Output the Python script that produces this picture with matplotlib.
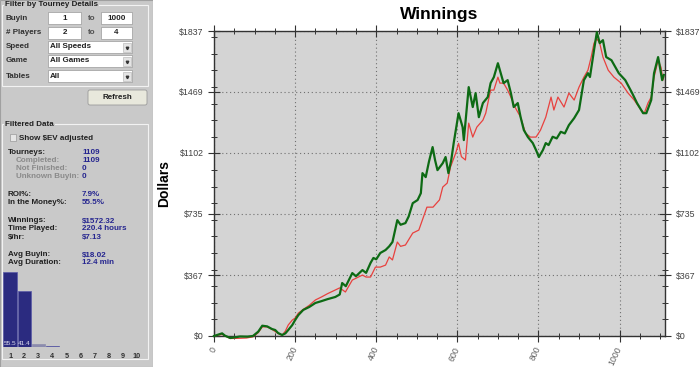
import matplotlib
matplotlib.use('Agg')
import matplotlib.pyplot as plt
import matplotlib.font_manager as fm
from matplotlib.patches import Rectangle, FancyBboxPatch
from matplotlib.ticker import FixedLocator, MultipleLocator

# ---- chart data ----
actual_x = [0, 10, 20, 27, 40, 52, 64, 82, 96, 109, 119, 131, 143, 151, 158, 168, 176, 183, 193,
            200, 208, 220, 235, 250, 265, 280, 299, 310, 316, 325, 341, 350, 366, 375, 386, 393,
            400, 410, 423, 432, 440, 452, 460, 472, 480, 490, 502, 510, 514, 522, 530, 539, 545,
            551, 564, 571, 578, 585, 591, 603, 608, 613, 616, 628, 638, 645, 653, 663, 675, 682,
            690, 700, 707, 714, 724, 732, 739, 749, 756, 764, 774, 786, 794, 801, 811, 818, 825,
            835, 845, 855, 865, 875, 888, 900, 912, 922, 927, 937, 944, 951, 959, 967, 980, 998,
            1014, 1031, 1043, 1058, 1066, 1078, 1085, 1095, 1098, 1105, 1109]
actual_y = [0, 8, 16, 2, -12, -8, -3, -4, 0, 26, 62, 58, 42, 36, 18, 6, 16, 36, 66,
            96, 126, 157, 175, 199, 210, 222, 235, 250, 319, 300, 379, 360, 397, 380, 440, 470,
            462, 500, 518, 540, 566, 698, 670, 680, 720, 800, 819, 860, 981, 957, 1050, 1138, 1060,
            999, 1041, 1078, 981, 1060, 1162, 1342, 1300, 1258, 1180, 1499, 1379, 1463, 1318, 1403, 1439, 1523,
            1559, 1643, 1583, 1523, 1541, 1463, 1379, 1403, 1318, 1240, 1198, 1162, 1120, 1078, 1120, 1162, 1150,
            1200, 1190, 1230, 1220, 1270, 1312, 1361, 1541, 1583, 1560, 1722, 1830, 1764, 1782, 1680, 1661, 1583,
            1541, 1463, 1403, 1342, 1342, 1421, 1583, 1680, 1640, 1541, 1572]

ev_x = [0, 20, 40, 60, 80, 96, 109, 119, 131, 143, 158, 168, 176, 183, 193, 200, 208, 220, 235,
        250, 265, 280, 299, 310, 324, 341, 366, 375, 386, 398, 410, 423, 432, 440, 452, 460, 472,
        490, 505, 525, 540, 556, 564, 575, 583, 596, 603, 610, 620, 628, 638, 648, 663, 670, 682,
        690, 700, 705, 714, 724, 732, 742, 756, 768, 780, 794, 805, 818, 831, 838, 848, 863, 875,
        888, 900, 912, 922, 930, 937, 944, 951, 959, 972, 986, 1004, 1021, 1036, 1053, 1061, 1070,
        1078, 1085, 1095, 1102, 1107, 1109]
ev_y = [0, 10, -15, -14, -12, -5, 20, 55, 55, 40, 15, 5, 30, 66, 96, 108, 138, 160, 185,
        217, 235, 255, 277, 290, 265, 337, 367, 355, 355, 415, 415, 427, 476, 458, 566, 540, 548,
        620, 638, 776, 776, 820, 897, 921, 1017, 1102, 1160, 1080, 1060, 1282, 1198, 1258, 1300, 1342, 1481,
        1481, 1559, 1523, 1523, 1481, 1439, 1379, 1318, 1222, 1198, 1198, 1240, 1318, 1439, 1361, 1439, 1379, 1463,
        1421, 1499, 1559, 1601, 1680, 1764, 1790, 1764, 1680, 1601, 1559, 1523, 1463, 1421, 1361, 1342, 1403,
        1439, 1559, 1661, 1619, 1541, 1560]

y_ticks = [0, 367.4, 734.8, 1102.2, 1469.6, 1837]
y_tick_labels = ['$0', '$367', '$735', '$1102', '$1469', '$1837']
x_ticks = [0, 200, 400, 600, 800, 1000]

# ---- side panel data ----
filter_labels = ['Buyin', '# Players', 'Speed', 'Game', 'Tables']
range_from = ['1', '2']
range_to = ['1000', '4']
combo_values = ['All Speeds', 'All Games', 'All']
stat_rows = [('Tourneys:', '1109', False), ('Completed:', '1109', True),
             ('Not Finished:', '0', True), ('Unknown Buyin:', '0', True), None,
             ('ROI%:', '7.9%', False), ('In the Money%:', '55.5%', False), None,
             ('Winnings:', '$1572.32', False), ('Time Played:', '220.4 hours', False),
             ('$/hr:', '$7.13', False), None,
             ('Avg Buyin:', '$18.02', False), ('Avg Duration:', '12.4 min', False)]
finish_places = [1, 2, 3, 4, 5, 6, 7, 8, 9, 10]
finish_pct = [55.5, 41.4, 2.3, 0.8, 0, 0, 0, 0, 0, 0]

names = {f.name for f in fm.fontManager.ttflist}
ui_font = 'Liberation Sans Narrow' if 'Liberation Sans Narrow' in names else 'Liberation Sans'
ui_size = 6.9 if ui_font == 'Liberation Sans Narrow' else 5.8
chart_font = 'Liberation Sans'

W, H = 700, 367
fig = plt.figure(figsize=(7, 3.67), dpi=100)
fig.patch.set_facecolor('white')

# ---------------- side panel (pixel coordinates) ----------------
pan = fig.add_axes([0, 0, 153 / W, 1])
pan.set_xlim(0, 153)
pan.set_ylim(H, 0)
pan.axis('off')
panel_bg = '#c9c9c9'
pan.add_patch(Rectangle((0, 0), 153, H, facecolor=panel_bg, edgecolor='#a0a0a0', lw=0.8))

def group_box(y0, y1, title):
    pan.add_patch(Rectangle((2, y0), 146, y1 - y0, facecolor='none', edgecolor='#f2f2f2', lw=0.8))
    pan.text(5, y0, title, fontsize=ui_size, family=ui_font, weight='bold', color='#202020',
             va='center', ha='left', bbox=dict(facecolor=panel_bg, edgecolor='none', pad=0.6))

def ui_text(x, y, s, color='#202020', ha='left'):
    pan.text(x, y, s, fontsize=ui_size, family=ui_font, weight='bold', color=color,
             va='center', ha=ha)

group_box(5, 86, 'Filter by Tourney Details')
row_y = [18, 33, 47, 61, 76]
for lbl, y in zip(filter_labels, row_y):
    ui_text(6, y, lbl, '#303030')
for i, (a, b) in enumerate(zip(range_from, range_to)):
    y = row_y[i]
    pan.add_patch(Rectangle((48, y - 6), 33, 12, facecolor='white', edgecolor='#9a9a9a', lw=0.5))
    pan.add_patch(Rectangle((101, y - 6), 31, 12, facecolor='white', edgecolor='#9a9a9a', lw=0.5))
    ui_text(64.5, y, a, ha='center')
    ui_text(116.5, y, b, ha='center')
    ui_text(88, y, 'to', '#505050')
for v, y in zip(combo_values, row_y[2:]):
    pan.add_patch(Rectangle((48, y - 6), 84, 12, facecolor='white', edgecolor='#9a9a9a', lw=0.5))
    pan.add_patch(Rectangle((123, y - 4.5), 8, 9, facecolor='#e4e4e4', edgecolor='#b0b0b0', lw=0.4))
    pan.plot([127], [y + 0.5], marker='v', ms=1.8, color='#333333')
    ui_text(50, y, v)

pan.add_patch(FancyBboxPatch((88, 90), 59, 15, boxstyle='round,pad=0,rounding_size=2',
                             facecolor='#e8e8dc', edgecolor='#9a9a9a', lw=0.6))
ui_text(117.5, 97.5, 'Refresh', '#202020', ha='center')

group_box(124, 359, 'Filtered Data')
pan.add_patch(Rectangle((10, 134), 6, 7, facecolor='#e6e6e6', edgecolor='#9a9a9a', lw=0.5))
ui_text(19, 138, 'Show $EV adjusted')

y = 153
for row in stat_rows:
    if row is None:
        y += 10
        continue
    lbl, val, sub = row
    ui_text(16 if sub else 8, y, lbl, '#8a8a8a' if sub else '#202020')
    ui_text(82, y, val, '#25258f')
    y += 8

# histogram of finishing places
hx = fig.add_axes([3 / W, (H - 347) / H, 141 / W, 75 / H])
hx.patch.set_alpha(0)
bars = hx.bar(finish_places, finish_pct, width=0.93, color='#2b2b80', edgecolor='#5a5aa8', lw=0.5)
bars[2].set_color('#8c8cae')
hx.set_xlim(0.5, 10.5)
hx.set_ylim(0, max(finish_pct))
hx.set_xticks(finish_places)
hx.tick_params(length=0, labelsize=ui_size - 0.6, pad=4)
for t in hx.get_xticklabels():
    t.set_family(ui_font)
    t.set_weight('bold')
    t.set_color('#303030')
hx.set_yticks([])
for s in hx.spines.values():
    s.set_visible(False)
for p, v in zip(finish_places[:2], finish_pct[:2]):
    hx.text(p, 0.8, f'{v}', ha='center', va='bottom', fontsize=ui_size - 1.2,
            family=ui_font, color='#e0e0f0')

# ---------------- main chart ----------------
ax = fig.add_axes([214 / W, (H - 336) / H, 451 / W, 305 / H])
ax.set_facecolor('#d4d4d4')
ax.plot(ev_x, ev_y, color='#e8413e', lw=0.9, clip_on=False, zorder=3)
ax.plot(actual_x, actual_y, color='#0d6a14', lw=1.6, clip_on=False, zorder=4)
ax.set_xlim(0, 1112)
ax.set_ylim(0, 1837)

ax.yaxis.set_major_locator(FixedLocator(y_ticks))
ax.set_yticklabels(y_tick_labels)
ax.yaxis.set_minor_locator(MultipleLocator(100))
ax.xaxis.set_major_locator(FixedLocator(x_ticks))
ax.xaxis.set_minor_locator(MultipleLocator(50))
ax.tick_params(which='both', direction='inout', top=True, right=True, labelright=True,
               color='#333333', labelcolor='#404040', labelsize=6.3)
ax.tick_params(which='major', length=8, width=0.8)
ax.tick_params(which='minor', length=5, width=0.7)
ax.tick_params(axis='x', pad=4)
for t in ax.get_xticklabels():
    t.set_rotation(65)
    t.set_ha('right')
    t.set_va('center')
    t.set_rotation_mode('anchor')
    t.set_color('#606060')
for t in ax.get_xticklabels() + ax.yaxis.get_majorticklabels():
    t.set_family(chart_font)
for s in ax.spines.values():
    s.set_color('#333333')
    s.set_linewidth(1.0)
ax.grid(True, which='major', linestyle=(0, (1, 2.5)), color='#707070', lw=0.8)

ax.set_title('Winnings', fontsize=12.5, weight='bold', family=chart_font, pad=9)
ax.set_ylabel('Dollars', fontsize=10, weight='bold', family=chart_font)
ax.yaxis.set_label_coords(-0.095, 0.5)

fig.savefig('out.png', dpi=100)
